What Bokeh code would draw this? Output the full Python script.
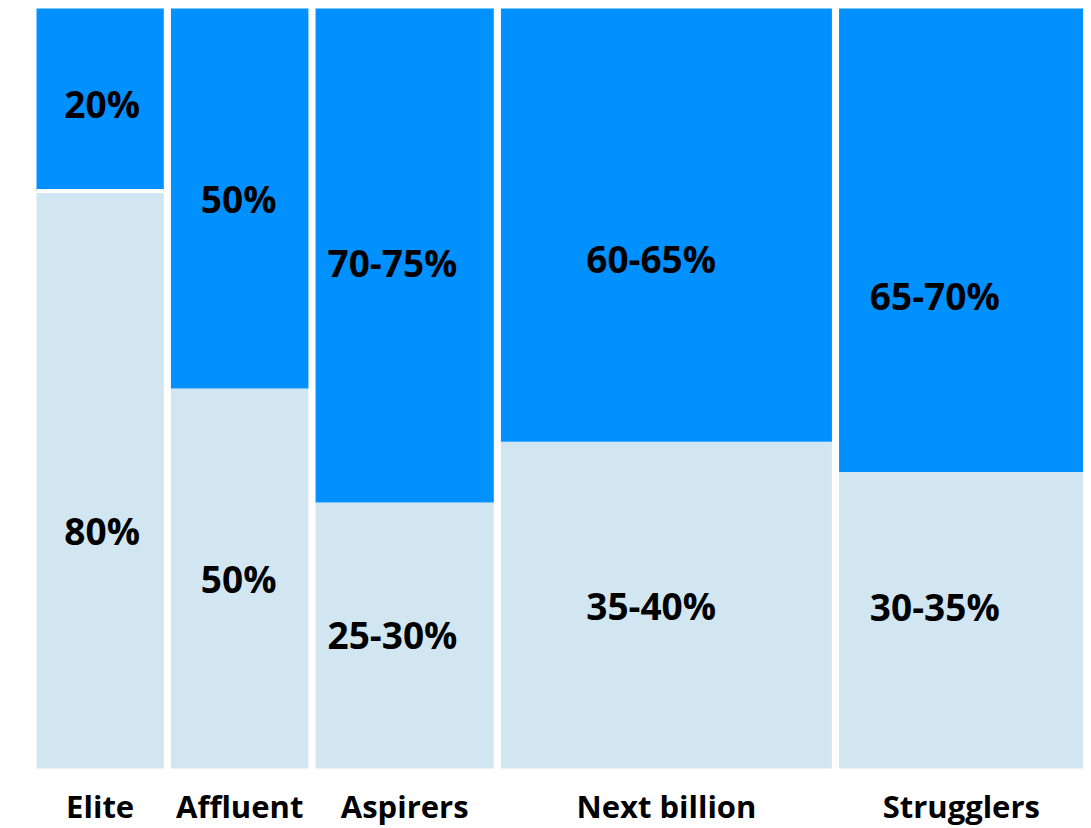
from bokeh.plotting import figure
from bokeh.models import ColumnDataSource, Range1d
from bokeh.core.properties import value
from bokeh.embed import file_html
from bokeh.resources import INLINE

# ---- data ----
segments = ["Elite", "Affluent", "Aspirers", "Next billion", "Strugglers"]
population_share = [12.5, 13.5, 17.5, 32.5, 24.0]      # column widths (%)
upper_share = [24, 50, 65, 57, 61]                     # dark block share (%) as drawn
upper_labels = ["20%", "50%", "70-75%", "60-65%", "65-70%"]
lower_labels = ["80%", "50%", "25-30%", "35-40%", "30-35%"]
upper_label_y = [87.5, 75.0, 66.6, 67.1, 62.2]
lower_label_y = [31.3, 25.0, 17.6, 21.4, 21.3]
label_shift = [0.2, -0.1, -1.2, -1.5, -2.6]
split_gap = [True, False, False, False, False]

GAP = 0.7
DARK = "#0091ff"
LIGHT = "#d1e6f1"
FONT = value("Open Sans")

lefts, rights = [], []
x = 0.0
for w in population_share:
    lefts.append(x)
    rights.append(x + w)
    x += w + GAP
centers = [(l + r) / 2 for l, r in zip(lefts, rights)]

p = figure(width=1083, height=828, output_backend="svg", toolbar_location=None,
           x_range=Range1d(-3.534, 102.8), y_range=Range1d(-7.89, 101.05))
p.min_border = 0
p.outline_line_color = None
p.axis.visible = False
p.grid.visible = False
p.background_fill_color = "white"
p.border_fill_color = "white"

splits = [100 - s for s in upper_share]
dark_src = ColumnDataSource(dict(left=lefts, right=rights, bottom=splits, top=[100] * 5))
light_src = ColumnDataSource(dict(left=lefts, right=rights, bottom=[0] * 5, top=splits))
p.quad(left="left", right="right", bottom="bottom", top="top", source=light_src,
       fill_color=LIGHT, line_color=None)
p.quad(left="left", right="right", bottom="bottom", top="top", source=dark_src,
       fill_color=DARK, line_color=None)

gx0 = [l for l, g in zip(lefts, split_gap) if g]
gx1 = [r for r, g in zip(rights, split_gap) if g]
gy = [s for s, g in zip(splits, split_gap) if g]
p.segment(x0=gx0, x1=gx1, y0=gy, y1=gy, line_color="white", line_width=4)

lab_x = [c + s for c, s in zip(centers, label_shift)]
p.text(x=lab_x, y=upper_label_y, text=upper_labels, text_align="center",
       text_baseline="middle", text_font=FONT, text_font_style="bold",
       text_font_size="37px", text_color="#000000")
p.text(x=lab_x, y=lower_label_y, text=lower_labels, text_align="center",
       text_baseline="middle", text_font=FONT, text_font_style="bold",
       text_font_size="37px", text_color="#000000")
p.text(x=centers, y=[-4.9] * 5, text=segments, text_align="center",
       text_baseline="middle", text_font=FONT, text_font_style="bold",
       text_font_size="31px", text_color="#000000")

open("out.html", "w").write(file_html(p, INLINE))
